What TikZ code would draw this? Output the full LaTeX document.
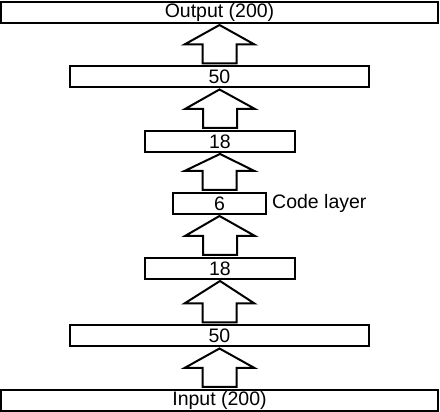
\documentclass[tikz,border=0pt]{standalone}
\usepackage{fontspec}
\setmainfont{Liberation Sans}
\usetikzlibrary{calc,positioning}

\tikzset{
  layer/.style={draw, line width=2pt, rectangle, minimum height=21pt,
    inner sep=0pt, outer sep=0pt, font=\fontsize{19.5}{21}\selectfont},
  blockarrow/.style={draw, line width=2pt, fill=white, miter limit=20}
}

\begin{document}
\begin{tikzpicture}[x=1pt, y=1pt]

    \useasboundingbox (0,0) rectangle (440,412);

    % ==========================================
    % Layer centres (bottom to top)
    % ==========================================
    \coordinate (Cin)   at (219.5, 11.5);
    \coordinate (Cd)    at (219.5, 76);
    \coordinate (Cc)    at (220, 143.5);
    \coordinate (Ccode) at (219.5, 208.5);
    \coordinate (Cb)    at (220, 270.5);
    \coordinate (Ca)    at (219.5, 335);
    \coordinate (Cout)  at (219.5, 399.5);

    % Layers
    \node[layer, minimum width=437pt] (in)   at (Cin)   {Input (200)};
    \node[layer, minimum width=299pt] (hidD) at (Cd)    {50};
    \node[layer, minimum width=150pt] (hidC) at (Cc)    {18};
    \node[layer, minimum width=93pt]  (code) at (Ccode) {6};
    \node[layer, minimum width=150pt] (hidB) at (Cb)    {18};
    \node[layer, minimum width=299pt] (hidA) at (Ca)    {50};
    \node[layer, minimum width=437pt] (out)  at (Cout)  {Output (200)};

    % Side label
    \node[right=6pt of code, inner sep=0pt, font=\fontsize{19.5}{21}\selectfont] (codelbl) {Code layer};

    % ==========================================
    % Block arrows between consecutive layers
    % ==========================================
    \foreach \lo/\hi in {in/hidD, hidD/hidC, hidC/code, code/hidB, hidB/hidA, hidA/out}
      \draw[blockarrow] ($(\lo.north)+(-17,3)$) -- ($(\lo.north)+(17,3)$)
        -- ($(\lo.north)+(17,22)$) -- ($(\lo.north)+(35,22)$)
        -- ($(\hi.south)+(0,-2)$)
        -- ($(\lo.north)+(-35,22)$) -- ($(\lo.north)+(-17,22)$) -- cycle;

\end{tikzpicture}
\end{document}
